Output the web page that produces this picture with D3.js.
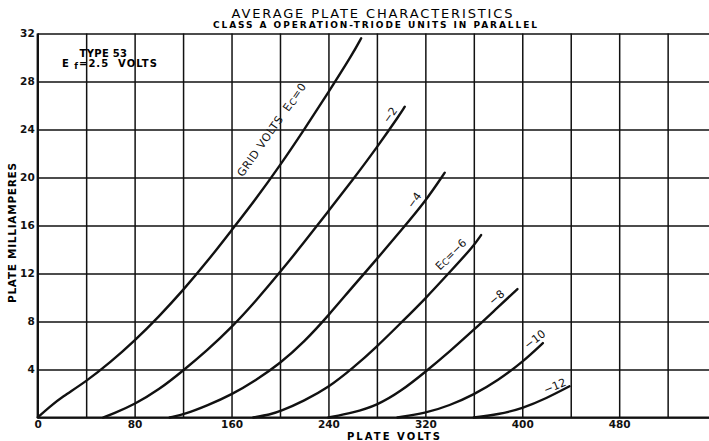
<!DOCTYPE html>
<html>
<head>
<meta charset="utf-8">
<script src="https://d3js.org/d3.v7.min.js"></script>
<style>
  body { margin: 0; background: #fff; }
  svg { display: block; font-family: "DejaVu Sans", sans-serif; }
  .grid line { stroke: #111; stroke-width: 1.5; }
  .grid .domain { display: none; }
  .ticks .domain { display: none; }
  .ticks text { font-family: "DejaVu Sans", sans-serif; font-size: 10.5px; font-weight: bold; fill: #111; }
  .curve { fill: none; stroke: #111; stroke-width: 2.4; stroke-linecap: round; }
  .lbl { font-size: 11px; fill: #111; }
</style>
</head>
<body>
<div id="plate_chart"></div>
<script>
// grid bias of each curve (volts)
var gridVolts = [0, -2, -4, -6, -8, -10, -12];

// [plate volts, plate milliamperes]
var curveEc0  = [[0,0],[10,0.9],[20,1.7],[40,3.0],[60,4.6],[80,6.4],[100,8.4],[120,10.6],[140,13.0],[160,15.6],[180,18.2],[200,21.0],[220,24.0],[240,27.1],[260,30.3],[267,31.6]];
var curveEc2  = [[54,0],[62,0.3],[80,1.1],[100,2.3],[120,3.9],[140,5.6],[160,7.5],[180,9.7],[200,12.1],[220,14.6],[240,17.2],[260,19.8],[280,22.5],[300,25.4],[303,25.9]];
var curveEc4  = [[109,0],[122,0.3],[140,1.0],[160,1.9],[180,3.1],[200,4.5],[220,6.3],[240,8.5],[260,10.9],[280,13.2],[300,15.6],[320,18.0],[336,20.4]];
var curveEc6  = [[178,0],[192,0.25],[200,0.5],[220,1.4],[240,2.5],[260,4.1],[280,5.9],[300,7.9],[320,9.9],[340,12.1],[360,14.3],[366,15.2]];
var curveEc8  = [[240,0],[260,0.4],[280,1.0],[300,2.2],[320,3.8],[340,5.5],[360,7.3],[380,9.2],[396,10.7]];
var curveEc10 = [[297,0],[320,0.35],[340,1.0],[360,1.9],[380,3.1],[400,4.6],[417,6.2]];
var curveEc12 = [[360,0],[380,0.25],[400,0.75],[420,1.6],[439,2.6]];

var curves = [curveEc0, curveEc2, curveEc4, curveEc6, curveEc8, curveEc10, curveEc12];

// axis tick labels
var xTickLabels = [0, 80, 160, 240, 320, 400, 480];
var yTickLabels = [4, 8, 12, 16, 20, 24, 28, 32];

// where the curve labels sit (volts, mA) and their slant
var labelVolts = [193, 291, 311, 341, 379, 410.5, 427];
var labelMa    = [24.0, 25.2, 18.1, 13.6, 10.0, 6.5, 2.6];
var labelAngle = [-55, -55, -55, -45, -40, -37, -22];

var margin = {top: 33.5, left: 37.7},
  width = 678.4, height = 384;

var svg = d3.select("#plate_chart")
.append("svg")
  .attr("width", 709)
  .attr("height", 441)
.append("g")
  .attr("transform", "translate(" + margin.left + "," + margin.top + ")");

var x = d3.scaleLinear()
  .domain([0, 560])
  .range([0, width]);

var y = d3.scaleLinear()
  .domain([0, 32])
  .range([height, 0]);

// grid: every 40 volts and every 4 mA
svg.append("g")
  .attr("class", "grid")
  .attr("transform", "translate(0," + height + ")")
  .call(d3.axisBottom(x).tickValues(d3.range(0, 561, 40)).tickSize(-height).tickFormat(""));

svg.append("g")
  .attr("class", "grid")
  .call(d3.axisLeft(y).tickValues(d3.range(0, 33, 4)).tickSize(-width).tickFormat(""));

// heavier axis lines
svg.append("line")
  .attr("x1", x(0)).attr("x2", x(0))
  .attr("y1", y(0)).attr("y2", y(32))
  .attr("stroke", "#111").attr("stroke-width", 2.2);
svg.append("line")
  .attr("x1", x(0)).attr("x2", width)
  .attr("y1", y(0)).attr("y2", y(0))
  .attr("stroke", "#111").attr("stroke-width", 2.2);

// tick labels
svg.append("g")
  .attr("class", "ticks")
  .attr("transform", "translate(0," + height + ")")
  .call(d3.axisBottom(x).tickValues(xTickLabels).tickSize(0).tickPadding(3));

svg.append("g")
  .attr("class", "ticks")
  .call(d3.axisLeft(y).tickValues(yTickLabels).tickSize(0).tickPadding(3));

// the curves
var line = d3.line()
  .x(function(d) { return x(d[0]); })
  .y(function(d) { return y(d[1]); })
  .curve(d3.curveBasis);

svg.selectAll(".curve")
  .data(curves)
  .enter()
  .append("path")
  .attr("class", "curve")
  .attr("d", line);

// curve labels
var labels = svg.selectAll(".lbl")
  .data(gridVolts)
  .enter()
  .append("text")
  .attr("class", "lbl")
  .attr("text-anchor", "middle")
  .attr("dominant-baseline", "central")
  .attr("transform", function(d, i) {
    return "translate(" + x(labelVolts[i]) + "," + y(labelMa[i]) + ") rotate(" + labelAngle[i] + ")";
  });

labels.each(function(d, i) {
  var t = d3.select(this);
  var num = (d < 0 ? "\u2212" : "") + Math.abs(d);
  if (i == 0 || i == 3) {
    if (i == 0) t.attr("letter-spacing", "0.6px").append("tspan").text("GRID VOLTS\u00a0 ");
    t.append("tspan").text("E");
    t.append("tspan").attr("font-size", "9px").attr("dy", 2).text("C");
    t.append("tspan").attr("dy", -2).text("=" + num);
  } else {
    t.text(num);
  }
});

// titles
svg.append("text")
  .attr("x", 372 - margin.left)
  .attr("y", 17.5 - margin.top)
  .attr("text-anchor", "middle")
  .attr("font-size", "13px")
  .attr("textLength", 281)
  .text("AVERAGE PLATE CHARACTERISTICS");

svg.append("text")
  .attr("x", 375 - margin.left)
  .attr("y", 28 - margin.top)
  .attr("text-anchor", "middle")
  .attr("font-size", "9px")
  .attr("font-weight", "bold")
  .attr("textLength", 324)
  .text("CLASS A OPERATION-TRIODE UNITS IN PARALLEL");

// tube note
svg.append("text")
  .attr("x", 103.5 - margin.left)
  .attr("y", 56.5 - margin.top)
  .attr("text-anchor", "middle")
  .attr("font-size", "10px")
  .attr("font-weight", "bold")
  .attr("letter-spacing", "0.3px")
  .text("TYPE 53");

var ef = svg.append("text")
  .attr("x", 62 - margin.left)
  .attr("y", 67 - margin.top)
  .attr("font-size", "10px")
  .attr("font-weight", "bold")
  .attr("letter-spacing", "1px");
ef.append("tspan").text("E\u00a0");
ef.append("tspan").attr("dy", 2).attr("font-size", "8.5px").text("f");
ef.append("tspan").attr("dy", -2).text("=2.5\u00a0\u00a0VOLTS");

// axis titles
svg.append("text")
  .attr("x", 393.5 - margin.left)
  .attr("y", 439.5 - margin.top)
  .attr("text-anchor", "middle")
  .attr("font-size", "10px")
  .attr("font-weight", "bold")
  .attr("textLength", 93)
  .text("PLATE VOLTS");

svg.append("text")
  .attr("text-anchor", "middle")
  .attr("transform", "rotate(-90)")
  .attr("x", -(233 - margin.top))
  .attr("y", 16 - margin.left)
  .attr("font-size", "10.5px")
  .attr("font-weight", "bold")
  .attr("textLength", 140)
  .text("PLATE MILLIAMPERES");
</script>
</body>
</html>
